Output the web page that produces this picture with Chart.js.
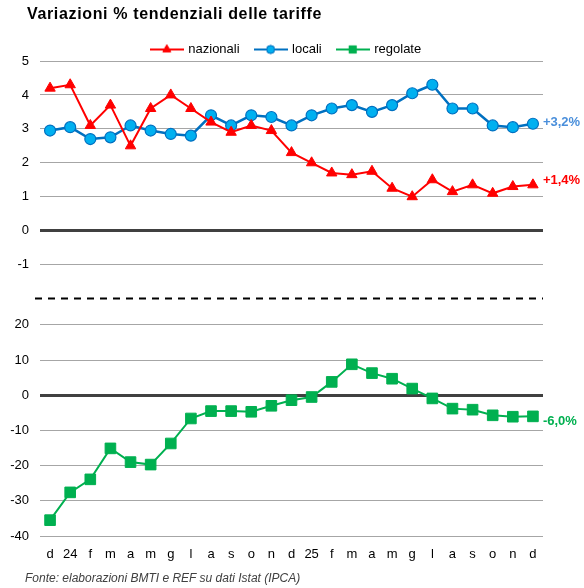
<!DOCTYPE html>
<html>
<head>
<meta charset="utf-8">
<script src="https://cdn.jsdelivr.net/npm/chart.js@4.4.1/dist/chart.umd.min.js"></script>
<style>
  body { margin: 0; background: #fff; }
  #wrap { position: relative; width: 584px; height: 588px; font-family: "Liberation Sans", Arial, sans-serif; }
  #chart { position: absolute; left: 0; top: 0; }
  #titolo { position: absolute; left: 27px; top: 5px; font-size: 16px; font-weight: bold; letter-spacing: 0.65px; color: #000; white-space: nowrap; }
  #fonte { position: absolute; left: 25px; top: 571px; font-size: 12px; font-style: italic; color: #404040; white-space: nowrap; }
</style>
</head>
<body>
<div id="wrap">
  <canvas id="chart" width="584" height="588"></canvas>
  <div id="titolo">Variazioni % tendenziali delle tariffe</div>
  <div id="fonte">Fonte: elaborazioni BMTI e REF su dati Istat (IPCA)</div>
</div>
<script>
// dati
const mesi = ['d', '24', 'f', 'm', 'a', 'm', 'g', 'l', 'a', 's', 'o', 'n', 'd', '25', 'f', 'm', 'a', 'm', 'g', 'l', 'a', 's', 'o', 'n', 'd']
const nazionali = [4.2, 4.3, 3.1, 3.7, 2.5, 3.6, 4.0, 3.6, 3.2, 2.9, 3.1, 2.95, 2.3, 2.0, 1.7, 1.65, 1.75, 1.25, 1.0, 1.5, 1.15, 1.35, 1.1, 1.3, 1.35]
const locali = [2.95, 3.05, 2.7, 2.75, 3.1, 2.95, 2.85, 2.8, 3.4, 3.1, 3.4, 3.35, 3.1, 3.4, 3.6, 3.7, 3.5, 3.7, 4.05, 4.3, 3.6, 3.6, 3.1, 3.05, 3.15]
const regolate = [-35.5, -27.6, -23.9, -15.1, -19.0, -19.7, -13.7, -6.6, -4.5, -4.5, -4.7, -3.0, -1.4, -0.5, 3.8, 8.8, 6.3, 4.7, 1.9, -0.9, -3.8, -4.1, -5.7, -6.1, -6.0]
const etichetteFinali = ['+1,4%', '+3,2%', '-6,0%']

Chart.defaults.font.family = '"Liberation Sans", Arial, sans-serif'
Chart.defaults.font.size = 13
Chart.defaults.color = '#000'

// simbolo della legenda: linea con marker al centro
const simbolo = (colore, riempimento, stile, raggio) => {
    const c = document.createElement('canvas')
    c.width = 34
    c.height = 12
    const g = c.getContext('2d')
    g.strokeStyle = colore
    g.lineWidth = 2
    g.beginPath()
    g.moveTo(0, 6)
    g.lineTo(34, 6)
    g.stroke()
    g.fillStyle = riempimento
    g.lineWidth = 1
    Chart.helpers.drawPoint(g, { pointStyle: stile, radius: raggio, borderWidth: 1 }, 17, 6)
    g.fill()
    g.stroke()
    return c
}
const simboli = [
    simbolo('#FF0000', '#FF0000', 'triangle', 4.5),
    simbolo('#0070C0', '#00B0F0', 'circle', 4),
    simbolo('#00B050', '#00B050', 'rect', 5)
]

const griglia = {
    drawTicks: false,
    color: ctx => ctx.tick.value === 0 ? '#404040' : (ctx.tick.value === -2 ? 'rgba(0,0,0,0)' : '#A6A6A6'),
    lineWidth: ctx => ctx.tick.value === 0 ? 3 : 1
}

// linea tratteggiata tra i due pannelli, etichette finali, posizione legenda
const decorazioni = {
    id: 'decorazioni',
    afterLayout(chart) {
        const lg = chart.legend
        lg.left -= 5
        lg.right -= 5
        lg.top += 5
        lg.bottom += 5
    },
    beforeDatasetsDraw(chart) {
        const ctx = chart.ctx
        const y = chart.scales.yTop.bottom
        ctx.save()
        ctx.strokeStyle = '#000'
        ctx.lineWidth = 2
        ctx.setLineDash([7, 6])
        ctx.beginPath()
        ctx.moveTo(35, y)
        ctx.lineTo(chart.chartArea.right, y)
        ctx.stroke()
        ctx.restore()
    },
    afterDatasetsDraw(chart) {
        const ctx = chart.ctx
        const colori = ['#FF0000', '#4A8FDB', '#00B050']
        const dy = [-4, -1, 5]
        ctx.save()
        ctx.font = 'bold 13px "Liberation Sans", Arial, sans-serif'
        ctx.textBaseline = 'middle'
        chart.data.datasets.forEach((ds, i) => {
            const punti = chart.getDatasetMeta(i).data
            const p = punti[punti.length - 1]
            ctx.fillStyle = colori[i]
            ctx.fillText(etichetteFinali[i], p.x + 10, p.y + dy[i])
        })
        ctx.restore()
    }
}

new Chart(document.getElementById('chart'), {
    type: 'line',
    data: {
        labels: mesi,
        datasets: [
            {
                label: 'nazionali',
                data: nazionali,
                yAxisID: 'yTop',
                borderColor: '#FF0000',
                backgroundColor: '#FF0000',
                borderWidth: 2,
                pointStyle: 'triangle',
                pointRadius: 6,
                pointBorderWidth: 1,
                tension: 0
            },
            {
                label: 'locali',
                data: locali,
                yAxisID: 'yTop',
                borderColor: '#0070C0',
                backgroundColor: '#00B0F0',
                pointBorderColor: '#0070C0',
                borderWidth: 2.5,
                pointStyle: 'circle',
                pointRadius: 5.5,
                pointBorderWidth: 1.2,
                tension: 0
            },
            {
                label: 'regolate',
                data: regolate,
                yAxisID: 'yBot',
                borderColor: '#00B050',
                backgroundColor: '#00B050',
                borderWidth: 2,
                pointStyle: 'rect',
                pointRadius: 7.5,
                pointBorderWidth: 1,
                tension: 0
            }
        ]
    },
    options: {
        responsive: false,
        animation: false,
        layout: { padding: { left: 0, right: 41, top: 22, bottom: 22 } },
        plugins: {
            tooltip: { enabled: false },
            legend: {
                fullSize: false,
                labels: {
                    usePointStyle: true,
                    pointStyleWidth: 30,
                    padding: 16,
                    color: '#000',
                    font: { size: 13 },
                    generateLabels: chart => {
                        const items = Chart.defaults.plugins.legend.labels.generateLabels(chart)
                        items.forEach((it, i) => { it.pointStyle = simboli[i] })
                        return items
                    }
                }
            }
        },
        scales: {
            x: {
                type: 'category',
                offset: true,
                grid: { display: false },
                border: { display: false },
                ticks: { autoSkip: false, maxRotation: 0, padding: 3, color: '#000' },
                afterFit: s => { s.height = 30 }
            },
            yBot: {
                position: 'left',
                stack: 'pannelli',
                stackWeight: 1,
                min: -40,
                max: 27.5,
                grid: griglia,
                border: { display: false },
                ticks: { stepSize: 10, includeBounds: false, padding: 11, color: '#000' },
                afterFit: s => { s.width = 40 }
            },
            yTop: {
                position: 'left',
                stack: 'pannelli',
                stackWeight: 1,
                min: -2,
                max: 5,
                grid: griglia,
                border: { display: false },
                ticks: { stepSize: 1, padding: 11, color: '#000', callback: v => v === -2 ? '' : v },
                afterFit: s => { s.width = 40 }
            }
        }
    },
    plugins: [decorazioni]
})
</script>
</body>
</html>
